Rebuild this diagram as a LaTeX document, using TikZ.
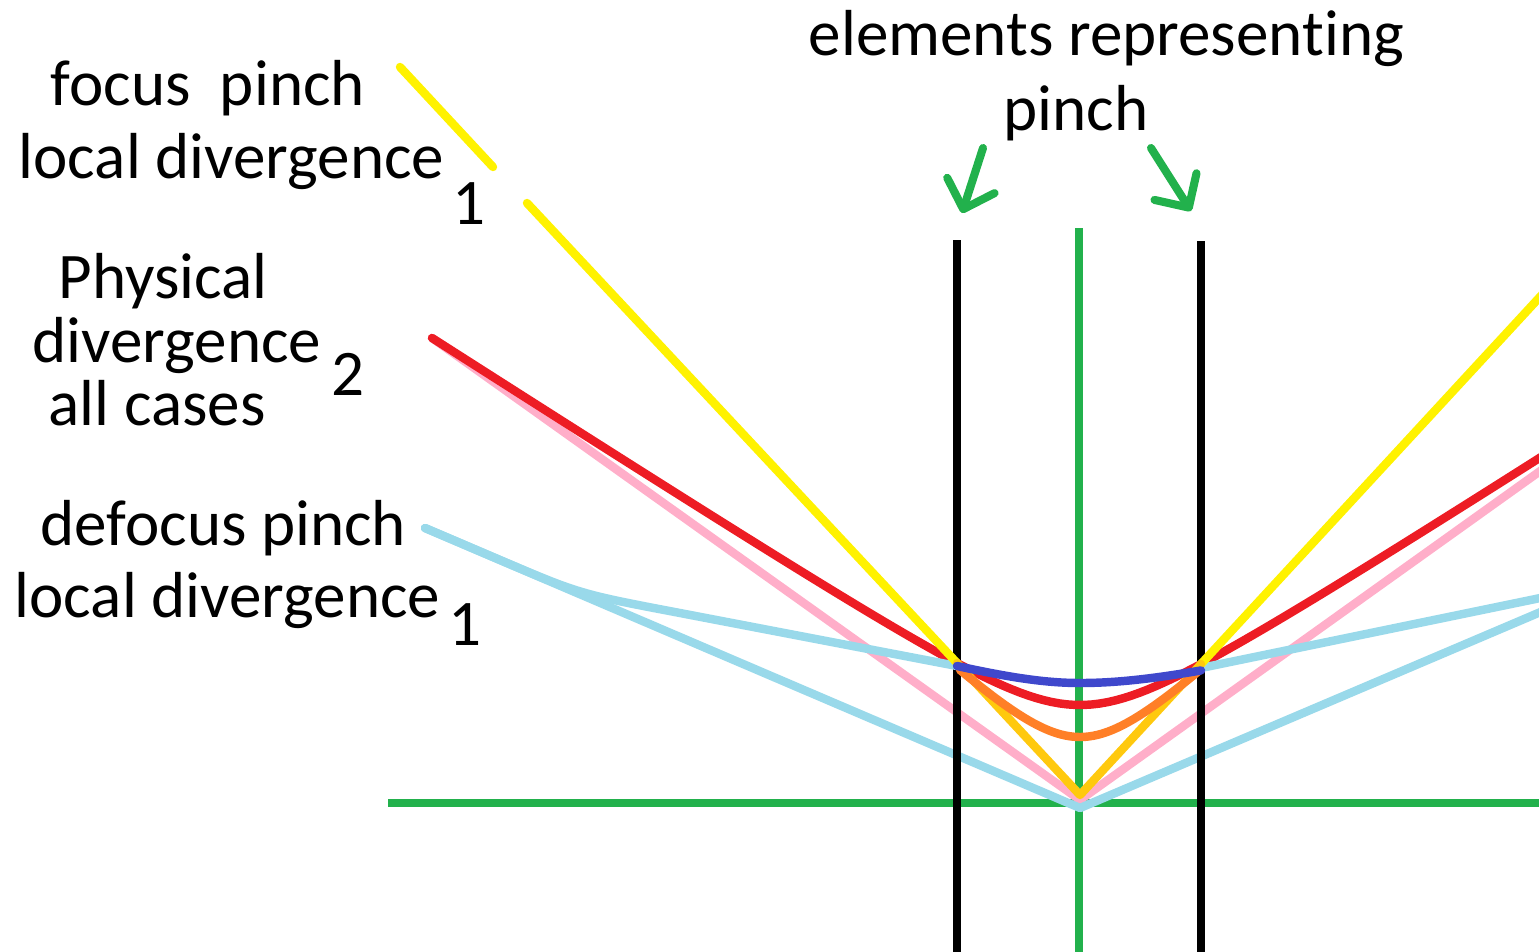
\documentclass[tikz,border=0pt]{standalone}
\usepackage{fontspec}
\setmainfont[Ligatures=NoCommon]{Carlito}
\usetikzlibrary{arrows.meta}
\definecolor{pyellow}{RGB}{255,242,0}
\definecolor{pgold}{RGB}{255,201,14}
\definecolor{pred}{RGB}{237,28,36}
\definecolor{ppink}{RGB}{255,174,201}
\definecolor{psky}{RGB}{153,217,234}
\definecolor{porange}{RGB}{255,127,39}
\definecolor{pblue}{RGB}{63,72,204}
\definecolor{pgreen}{RGB}{34,177,76}
\tikzset{
  ray/.style={line width=2.4pt,line cap=round,line join=round},
  axisline/.style={draw=pgreen,line width=2.2pt},
  element/.style={draw=black,line width=2.3pt},
  lbl/.style={inner sep=0pt,anchor=base west,font=\fontsize{18.5}{22}\selectfont},
  pointer/.style={-{Straight Barb[angle=90:10pt,round]},draw=pgreen,line width=2.3pt,line cap=round},
  declare function={
    redc(\t)=758.7-100*veclen(0.537,0.644*(\t-1080)/100);
    bluec(\t)=706.65-100*veclen(0.2365,ifthenelse(\t<1080,0.269,0.2265)*(\t-1080)/100);
    orc(\t)=800-100*veclen(0.63,0.948*(\t-1080)/100);
  }
}

\begin{document}
\begin{tikzpicture}[x=0.01cm,y=-0.01cm]
  \useasboundingbox (0,0) rectangle (1539,951);
  % ray end points
  \coordinate (yTop) at (400,67);
  \coordinate (yGapA) at (493,167);
  \coordinate (yGapB) at (527,203);
  \coordinate (yL) at (957,663);
  \coordinate (yV) at (1080,795);
  \coordinate (yR) at (1201,664);
  \coordinate (yEnd) at (1550,286);
  \coordinate (pinkL) at (432,338);
  \coordinate (pinkV) at (1080,800);
  \coordinate (pinkR) at (1550,464);
  \coordinate (skyL) at (425,528);
  \coordinate (skyV) at (1080,808);
  \coordinate (skyR) at (1550,608);
  \coordinate (skyBendA) at (500,560);
  \coordinate (skyBend) at (580,594);
  \coordinate (skyBendB) at (680,613);
  \coordinate (skyInL) at (957,666);
  \coordinate (skyInR) at (1201,668);
  \coordinate (skyOut) at (1550,596);

  % axes and elements
  \draw[axisline] (388,803) -- (1550,803);
  \draw[axisline] (1079,228) -- (1079,960);
  \draw[ray,ppink] (pinkL) -- (pinkV) -- (pinkR);
  \draw[ray,psky] (skyL) -- (skyV) -- (skyR);
  \draw[element] (957,240) -- (957,960);
  \draw[element] (1201,241) -- (1201,960);

  \draw[ray,pred] plot[domain=432:1550,samples=140] (\x,{redc(\x)});
  \draw[ray,psky] (skyL) -- (skyBendA) .. controls (skyBend) .. (skyBendB) -- (skyInL);
  \draw[ray,psky] (skyInR) -- (skyOut);
  \draw[ray,pyellow] (yTop) -- (yGapA);
  \draw[ray,pyellow] (yGapB) -- (yL);
  \draw[ray,pyellow] (yR) -- (yEnd);
  \draw[ray,pgold] (yL) -- (yV) -- (yR);
  \draw[ray,porange] plot[domain=960:1198,samples=60] (\x,{orc(\x)});
  \draw[ray,pblue] plot[domain=957:1201,samples=60] (\x,{bluec(\x)});

  % labels
  \node[lbl] (focus) at (50,105) {focus\ \ pinch};
  \node[lbl] (focusdiv) at (18,178) {local divergence};
  \node[lbl] (focusidx) at (452,224) {1};
  \node[lbl] (phys) at (58,298) {Physical};
  \node[lbl] (physdiv) at (32,362) {divergence};
  \node[lbl] (physall) at (48,425) {all cases};
  \node[lbl] (physidx) at (331,395) {2};
  \node[lbl] (defocus) at (40,545) {defocus pinch};
  \node[lbl] (defocusdiv) at (14,617) {local divergence};
  \node[lbl] (defocusidx) at (448,645) {1};
  \node[lbl] (elem) at (808,55) {elements representing};
  \node[lbl] (pinch) at (1003,130) {pinch};

  \coordinate (tipL) at (962,213);
  \coordinate (tipR) at (1191,211);
  \draw[pointer] (983,148) -- (tipL);
  \draw[pointer] (1151,148) -- (tipR);
\end{tikzpicture}
\end{document}
